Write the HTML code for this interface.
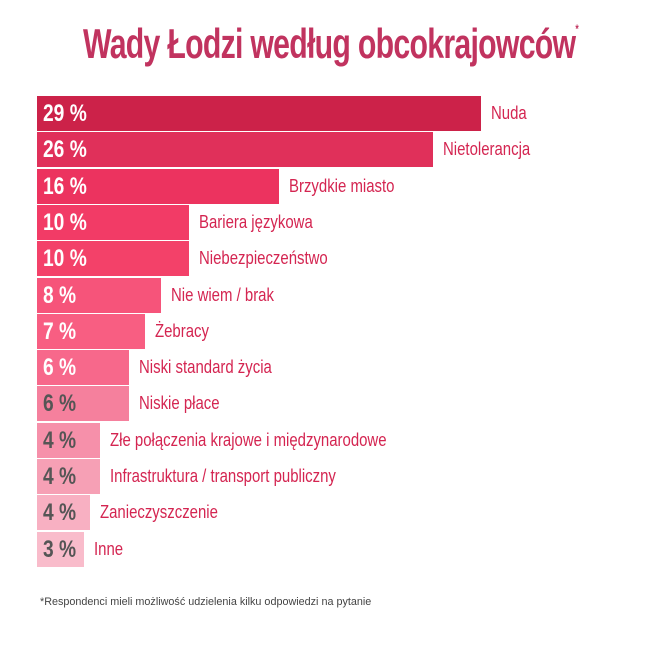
<!DOCTYPE html>
<html><head><meta charset="utf-8"><style>
body{margin:0;width:650px;height:652px;background:#fff;position:relative;overflow:hidden;font-family:"Liberation Sans",sans-serif;}
.t{position:absolute;left:83px;top:20px;font-weight:bold;font-size:42px;color:#c1335f;letter-spacing:-1px;white-space:nowrap;transform:scaleX(0.72);transform-origin:0 0}
.t sup{font-size:12px;vertical-align:top;position:relative;top:2px}
.b{position:absolute;left:37px;height:35px}
.v{position:absolute;left:43px;font-weight:bold;font-size:24px;line-height:35px;color:#fff;transform:scaleX(0.8);transform-origin:0 0;white-space:nowrap}
.l{position:absolute;font-size:18px;line-height:35px;color:#d42551;white-space:nowrap;transform:scaleX(0.83);transform-origin:0 0}
.f{position:absolute;left:40px;top:596px;font-size:10.8px;color:#444;white-space:nowrap}
</style></head><body>
<div class="t">Wady Łodzi według obcokrajowców<sup>*</sup></div>
<div class="b" style="top:96px;width:444px;background:#cc2249"></div><div class="v" style="top:96px">29 %</div><div class="l" style="top:96px;left:491px">Nuda</div>
<div class="b" style="top:132.3px;width:396px;background:#e0305a"></div><div class="v" style="top:132.3px">26 %</div><div class="l" style="top:132.3px;left:443px">Nietolerancja</div>
<div class="b" style="top:168.6px;width:242px;background:#ec335f"></div><div class="v" style="top:168.6px">16 %</div><div class="l" style="top:168.6px;left:289px">Brzydkie miasto</div>
<div class="b" style="top:204.9px;width:152px;background:#f23b66"></div><div class="v" style="top:204.9px">10 %</div><div class="l" style="top:204.9px;left:199px">Bariera językowa</div>
<div class="b" style="top:241.2px;width:152px;background:#f34169"></div><div class="v" style="top:241.2px">10 %</div><div class="l" style="top:241.2px;left:199px">Niebezpieczeństwo</div>
<div class="b" style="top:277.5px;width:124px;background:#f6547a"></div><div class="v" style="top:277.5px">8 %</div><div class="l" style="top:277.5px;left:171px">Nie wiem / brak</div>
<div class="b" style="top:313.8px;width:108px;background:#f85e82"></div><div class="v" style="top:313.8px">7 %</div><div class="l" style="top:313.8px;left:155px">Żebracy</div>
<div class="b" style="top:350.1px;width:92px;background:#f7688b"></div><div class="v" style="top:350.1px">6 %</div><div class="l" style="top:350.1px;left:139px">Niski standard życia</div>
<div class="b" style="top:386.4px;width:92px;background:#f5809d"></div><div class="v" style="top:386.4px;color:#555">6 %</div><div class="l" style="top:386.4px;left:139px">Niskie płace</div>
<div class="b" style="top:422.7px;width:63px;background:#f690aa"></div><div class="v" style="top:422.7px;color:#555">4 %</div><div class="l" style="top:422.7px;left:110px">Złe połączenia krajowe i międzynarodowe</div>
<div class="b" style="top:459px;width:63px;background:#f6a0b5"></div><div class="v" style="top:459px;color:#555">4 %</div><div class="l" style="top:459px;left:110px">Infrastruktura / transport publiczny</div>
<div class="b" style="top:495.3px;width:53px;background:#f8b0c2"></div><div class="v" style="top:495.3px;color:#555">4 %</div><div class="l" style="top:495.3px;left:100px">Zanieczyszczenie</div>
<div class="b" style="top:531.6px;width:47px;background:#f9bccb"></div><div class="v" style="top:531.6px;color:#555">3 %</div><div class="l" style="top:531.6px;left:94px">Inne</div>
<div class="f">*Respondenci mieli możliwość udzielenia kilku odpowiedzi na pytanie</div>
</body></html>
